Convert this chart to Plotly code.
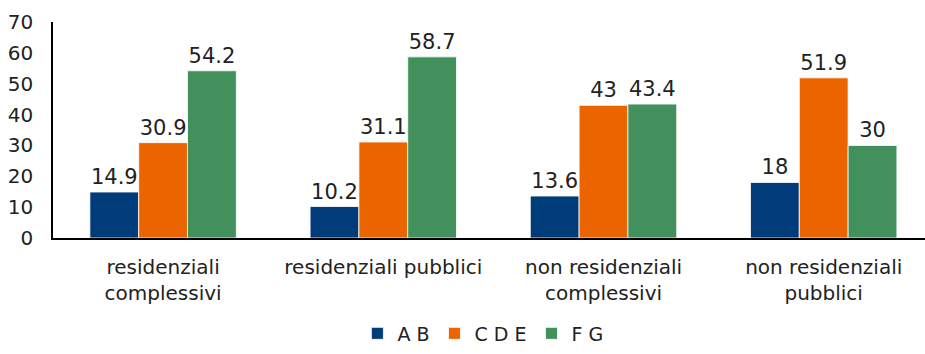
import plotly.graph_objects as go

categories = ["residenziali<br>complessivi", "residenziali pubblici",
              "non residenziali<br>complessivi", "non residenziali<br>pubblici"]
series_names = ["A B", "C D E", "F G"]
ab_values = [14.9, 10.2, 13.6, 18]
cde_values = [30.9, 31.1, 43, 51.9]
fg_values = [54.2, 58.7, 43.4, 30]
y_ticks = [0, 10, 20, 30, 40, 50, 60, 70]

colors = ["#003B7A", "#EA6400", "#42915C"]
font_family = "'DejaVu Sans', sans-serif"

fig = go.Figure()
for name, vals, col in zip(series_names, [ab_values, cde_values, fg_values], colors):
    fig.add_trace(go.Bar(
        x=categories, y=vals, name=name,
        marker=dict(color=col, line=dict(color="rgba(255,255,255,0.8)", width=1)),
        text=[f"{v:g}" for v in vals], textposition="outside",
        textfont=dict(size=21, color="#222222", family=font_family),
        cliponaxis=False,
    ))

fig.update_layout(
    width=925, height=354,
    margin=dict(l=53, r=0, t=22, b=116, autoexpand=False),
    paper_bgcolor="white", plot_bgcolor="white",
    barmode="group", bargap=0.335, bargroupgap=0,
    font=dict(family=font_family, size=20, color="#222222"),
    legend=dict(orientation="h", x=0.493, xanchor="center", y=-0.53, yanchor="bottom",
                font=dict(size=19), itemwidth=30, traceorder="normal"),
    showlegend=True,
)
fig.update_xaxes(range=[-0.5, 3.46], showline=True, linecolor="black", linewidth=2,
                 ticks="", tickfont=dict(size=20), showgrid=False, ticklabelstandoff=10)
fig.update_yaxes(range=[0, 70], tickvals=y_ticks, showline=True, linecolor="black",
                 linewidth=1.5, ticks="", showgrid=False, zeroline=False,
                 tickfont=dict(size=20), ticklabelstandoff=14)

fig.write_html("out.html")
